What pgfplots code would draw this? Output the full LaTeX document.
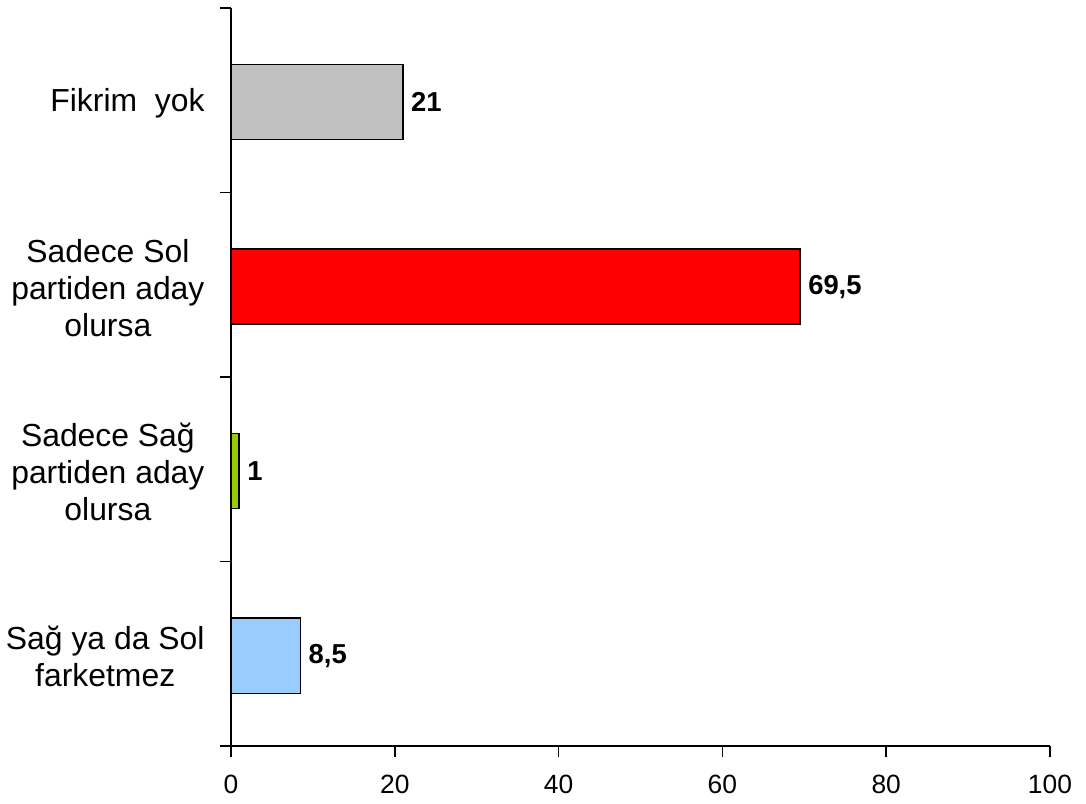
\documentclass[border=0pt]{standalone}
\usepackage{pgfplots}
\pgfplotsset{compat=1.18}
\usepackage{fontspec}
\setmainfont{Liberation Sans}
\definecolor{cgray}{HTML}{C0C0C0}
\definecolor{cred}{HTML}{FF0000}
\definecolor{cgreen}{HTML}{99CC00}
\definecolor{cblue}{HTML}{99CCFF}
\begin{document}
\begin{tikzpicture}
\begin{axis}[
  scale only axis, width=819bp, height=738bp,
  at={(0,0)}, anchor=south west,
  xbar, bar shift=-2bp, bar width=75bp,
  xmin=0, xmax=100, ymin=-0.5, ymax=3.5,
  axis x line=bottom, axis y line=left,
  axis line style={-, line width=1.6bp},
  xtick={0,20,...,100},
  ytick={-0.5,0.5,1.5,2.5,3.5}, yticklabels={},
  tick align=outside, major tick length=11bp,
  tick style={black, line width=1.6bp},
  /pgf/number format/assume math mode=true,
  /pgf/number format/use comma,
  xticklabel style={font=\fontsize{26.5}{32}\selectfont, yshift=-15bp},
  extra y ticks={0,1,2,3},
  extra y tick labels={{Sağ ya da Sol\\farketmez},{Sadece Sağ\\partiden aday\\olursa},{Sadece Sol\\partiden aday\\olursa},{Fikrim\ \ yok}},
  extra y tick style={major tick length=0pt, yticklabel style={align=center, font=\fontsize{32}{37}\selectfont, xshift=-23bp, yshift=-3bp}},
  nodes near coords,
  nodes near coords style={font=\bfseries\fontsize{27.5}{32}\selectfont, anchor=west, xshift=4bp, black},
  every axis plot/.append style={draw=black, line width=1.5bp},
]
\addplot[fill=cblue] coordinates {(8.5,0)};
\addplot[fill=cgreen] coordinates {(1,1)};
\addplot[fill=cred] coordinates {(69.5,2)};
\addplot[fill=cgray] coordinates {(21,3)};
\end{axis}
\pgfresetboundingbox
\path[use as bounding box] (-231bp,-58bp) rectangle (855bp,746bp);
\end{tikzpicture}
\end{document}
